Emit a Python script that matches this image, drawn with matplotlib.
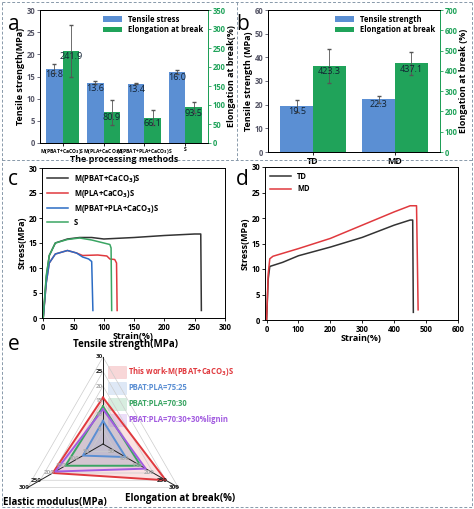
import numpy as np
import matplotlib
matplotlib.use('Agg')
import matplotlib.pyplot as plt
from matplotlib.lines import Line2D
from matplotlib.patches import Rectangle

BLUE = "#5b8fd3"
GREEN = "#20a35a"
plt.rcParams['font.family'] = ['Open Sans', 'DejaVu Sans']
plt.rcParams['font.weight'] = 'bold'
plt.rcParams['axes.labelweight'] = 'bold'

# panel a data
a_labels = ["M(PBAT+CaCO$_3$)S", "M(PLA+CaCO$_3$)S", "M(PBAT+PLA+CaCO$_3$)S", "S"]
a_strength = [16.8, 13.6, 13.4, 16.0]
a_strength_err = [1.1, 0.3, 0.2, 0.4]
a_elong = [241.9, 80.9, 66.1, 93.5]
a_elong_err = [68, 33, 20, 14]

# panel b data
b_labels = ["TD", "MD"]
b_strength = [19.5, 22.3]
b_strength_err = [2.4, 1.5]
b_elong = [423.3, 437.1]
b_elong_err = [85, 57]

# panel c curves (strain %, stress MPa)
c_names = ["M(PBAT+CaCO$_3$)S", "M(PLA+CaCO$_3$)S", "M(PBAT+PLA+CaCO$_3$)S", "S"]
c_colors = ["#333333", "#e0393e", "#2b6cc4", "#3aa563"]
c_strain = [
    [0, 5, 10, 20, 40, 60, 80, 100, 150, 200, 250, 260, 261],
    [0, 5, 10, 20, 40, 55, 65, 90, 105, 110, 118, 121, 122],
    [0, 5, 10, 20, 40, 55, 65, 75, 80, 82],
    [0, 5, 10, 20, 40, 60, 80, 100, 110, 112, 113],
]
c_stress = [
    [0, 8, 12.5, 15, 15.8, 16.1, 16.1, 15.8, 16.1, 16.5, 16.8, 16.8, 1.5],
    [0, 7, 11, 12.8, 13.5, 13, 12.5, 12.6, 12.4, 11.8, 11.7, 11, 1.5],
    [0, 7, 11, 12.8, 13.5, 13, 12.2, 11.8, 11.3, 1.5],
    [0, 8.5, 12.5, 15, 15.7, 16, 15.6, 15, 14.7, 14, 1.5],
]

# panel d curves
d_names = ["TD", "MD"]
d_colors = ["#333333", "#e0393e"]
d_strain = [
    [0, 5, 10, 20, 50, 100, 200, 300, 400, 450, 458, 460],
    [0, 5, 10, 20, 100, 200, 300, 400, 450, 470, 475],
]
d_stress = [
    [0, 8, 10.5, 10.7, 11.3, 12.6, 14.3, 16.2, 18.6, 19.6, 19.6, 1.5],
    [0, 9, 12, 12.5, 14, 16, 18.6, 21.2, 22.4, 22.4, 2],
]

# panel e radar
e_axes = ["Tensile strength(MPa)", "Elongation at break(%)", "Elastic modulus(MPa)"]
e_max = [30, 300, 300]
e_names = ["This work-M(PBAT+CaCO$_3$)S", "PBAT:PLA=75:25", "PBAT:PLA=70:30", "PBAT:PLA=70:30+30%lignin"]
e_colors = ["#e0393e", "#5b8fd3", "#3aa563", "#a25be0"]
e_values = [
    [16.0, 250, 200],
    [8.0, 90, 80],
    [13.0, 150, 150],
    [12.0, 170, 190],
]

fig = plt.figure(figsize=(4.74, 5.09), dpi=100)
W, H = 474, 509


def ax_px(x0, y0, x1, y1):
    return fig.add_axes([x0 / W, 1 - y1 / H, (x1 - x0) / W, (y1 - y0) / H])


def style(ax, fs=5.5):
    ax.tick_params(labelsize=fs, length=2, width=0.6, pad=1.5)
    for lab in ax.get_xticklabels() + ax.get_yticklabels():
        lab.set_fontweight('bold')
    for s in ax.spines.values():
        s.set_linewidth(0.7)


# ---- a ----
ax = ax_px(40, 10, 208, 143)
x = np.arange(4)
w = 0.4
ax.bar(x - w / 2, a_strength, w, color=BLUE, yerr=a_strength_err, ecolor='#555', capsize=1.5,
       error_kw=dict(lw=0.6), label="Tensile stress")
ax.set_ylim(0, 30)
ax.set_xlim(-0.55, 3.55)
ax.set_xticks(x)
ax.set_xticklabels(a_labels, fontsize=4)
ax.set_ylabel("Tensile strength(MPa)", fontsize=6.5, labelpad=1)
ax.set_xlabel("The processing methods", fontsize=6.5, labelpad=-1)
ax.tick_params(axis='y', colors='#556')
for xi, v in zip(x, a_strength):
    ax.text(xi - w / 2, v - 0.3, f"{v:.1f}", ha='center', va='top', fontsize=6.5, fontweight='normal', color='#123')
ax2 = ax.twinx()
ax2.bar(x + w / 2, a_elong, w, color=GREEN, yerr=a_elong_err, ecolor='#555', capsize=1.5,
        error_kw=dict(lw=0.6), label="Elongation at break")
ax2.set_ylim(0, 350)
ax2.set_ylabel("Elongation at break(%)", fontsize=6.5, labelpad=1)
ax2.tick_params(axis='y', colors=GREEN)
ax2.spines['right'].set_color(GREEN)
for xi, v in zip(x, a_elong):
    ax2.text(xi + w / 2, v - 3, f"{v:.1f}", ha='center', va='top', fontsize=6.5, fontweight='normal', color='#123')
h1, l1 = ax.get_legend_handles_labels()
h2, l2 = ax2.get_legend_handles_labels()
ax2.legend(h1 + h2, l1 + l2, loc='upper right', fontsize=5.5, frameon=False, handlelength=2.5,
           borderpad=0.1, labelspacing=0.2)
style(ax); style(ax2)
ax.tick_params(axis='x', labelsize=3.6, pad=1)

# ---- b ----
ax = ax_px(268, 10, 440, 152)
x = np.arange(2)
w = 0.4
ax.bar(x - w / 2, b_strength, w, color=BLUE, yerr=b_strength_err, ecolor='#555', capsize=1.5,
       error_kw=dict(lw=0.6), label="Tensile strength")
ax.set_ylim(0, 60)
ax.set_xlim(-0.55, 1.55)
ax.set_xticks(x)
ax.set_xticklabels(b_labels)
ax.set_ylabel("Tensile strength (MPa)", fontsize=6.5, labelpad=1)
ax.tick_params(axis='y', colors='#556')
for xi, v in zip(x, b_strength):
    ax.text(xi - w / 2, v - 0.5, f"{v:.1f}", ha='center', va='top', fontsize=6.5, fontweight='normal', color='#123')
ax2 = ax.twinx()
ax2.bar(x + w / 2, b_elong, w, color=GREEN, yerr=b_elong_err, ecolor='#555', capsize=1.5,
        error_kw=dict(lw=0.6), label="Elongation at break")
ax2.set_ylim(0, 700)
ax2.set_ylabel("Elongation at break (%)", fontsize=6.5, labelpad=1)
ax2.tick_params(axis='y', colors=GREEN)
ax2.spines['right'].set_color(GREEN)
for xi, v in zip(x, b_elong):
    ax2.text(xi + w / 2, v - 6, f"{v:.1f}", ha='center', va='top', fontsize=6.5, fontweight='normal', color='#123')
h1, l1 = ax.get_legend_handles_labels()
h2, l2 = ax2.get_legend_handles_labels()
ax2.legend(h1 + h2, l1 + l2, loc='upper right', fontsize=5.5, frameon=False, handlelength=2.5,
           borderpad=0.1, labelspacing=0.2)
style(ax); style(ax2)
ax.tick_params(axis='x', labelsize=6.5)

# ---- c ----
ax = ax_px(42, 168, 225, 318)
for sx, sy, c, n in zip(c_strain, c_stress, c_colors, c_names):
    ax.plot(sx, sy, color=c, lw=1.1, label=n)
ax.set_xlim(-2, 300)
ax.set_ylim(0, 30)
ax.set_xticks(range(0, 301, 50))
ax.set_yticks(range(0, 31, 5))
ax.set_xlabel("Strain(%)", fontsize=6.5, labelpad=0)
ax.set_ylabel("Stress(MPa)", fontsize=6.5, labelpad=1)
ax.legend(loc='upper left', fontsize=5.5, frameon=False, handlelength=2.8, labelspacing=0.4,
          borderaxespad=0.2)
style(ax)

# ---- d ----
ax = ax_px(265, 167, 458, 320)
for sx, sy, c, n in zip(d_strain, d_stress, d_colors, d_names):
    ax.plot(sx, sy, color=c, lw=1.1, label=n)
ax.set_xlim(-5, 600)
ax.set_ylim(0, 30)
ax.set_yticks(range(0, 31, 5))
ax.set_xlabel("Strain(%)", fontsize=6.5, labelpad=0)
ax.set_ylabel("Stress(MPa)", fontsize=6.5, labelpad=1)
ax.legend(loc='upper left', fontsize=5.5, frameon=False, handlelength=2.8, borderaxespad=0.2)
style(ax)

# ---- e radar (data units = pixels, centre at 103, 444) ----
ax = ax_px(0, 335, 300, 509)
ax.set_xlim(-103, 197)
ax.set_ylim(-65, 109)
ax.axis('off')
R = 87
ang = np.deg2rad([90, -30, 210])
ux, uy = np.cos(ang) * R, np.sin(ang) * R
for lvl in np.arange(1, 7) / 6:
    ax.plot(np.append(ux, ux[0]) * lvl, np.append(uy, uy[0]) * lvl, color='#ccc', lw=0.5)
for i in range(3):
    ax.plot([0, ux[i]], [0, uy[i]], color='#222', lw=0.7)
    for k in range(1, 7):
        r = k / 6
        val = e_max[i] * r
        ax.text(ux[i] * r - 4, uy[i] * r, f"{val:g}", fontsize=4.5, ha='center', va='center',
                color='#222' if k >= 5 else '#aaa')
for vals, c, n in zip(e_values, e_colors, e_names):
    r = np.array(vals) / np.array(e_max)
    px, py = ux * r, uy * r
    ax.fill(px, py, color=c, alpha=0.15, lw=0)
    ax.plot(np.append(px, px[0]), np.append(py, py[0]), color=c, lw=1.4)
ax.text(22, 99, e_axes[0], ha='center', va='center', fontsize=7)
ax.text(77, -55, e_axes[1], ha='center', va='center', fontsize=7)
ax.text(-48, -58, e_axes[2], ha='center', va='center', fontsize=7)
for k, (c, n) in enumerate(zip(e_colors, e_names)):
    yy = 72 - k * 16
    ax.add_patch(Rectangle((5, yy - 6), 18, 12, facecolor=c, alpha=0.2, edgecolor=c, lw=0.4))
    ax.text(25, yy, n, color=c, fontsize=5.5, va='center', ha='left')

# panel letters
for t, xx, yy in [("a", 8, 30), ("b", 236, 30), ("c", 8, 185), ("d", 236, 185), ("e", 8, 350)]:
    fig.text(xx / W, 1 - yy / H, t, fontsize=15, fontweight='normal')

# dashed frames
dash = dict(color='#8899aa', lw=0.7, ls=(0, (3, 2)), transform=fig.transFigure)
for x0, y0, x1, y1 in [(2, 2, 472, 2), (2, 507, 472, 507), (2, 2, 2, 507), (472, 2, 472, 507),
                       (237, 2, 237, 160), (2, 160, 472, 160)]:
    fig.add_artist(Line2D([x0 / W, x1 / W], [1 - y0 / H, 1 - y1 / H], **dash))

fig.savefig("out.png", dpi=100)
